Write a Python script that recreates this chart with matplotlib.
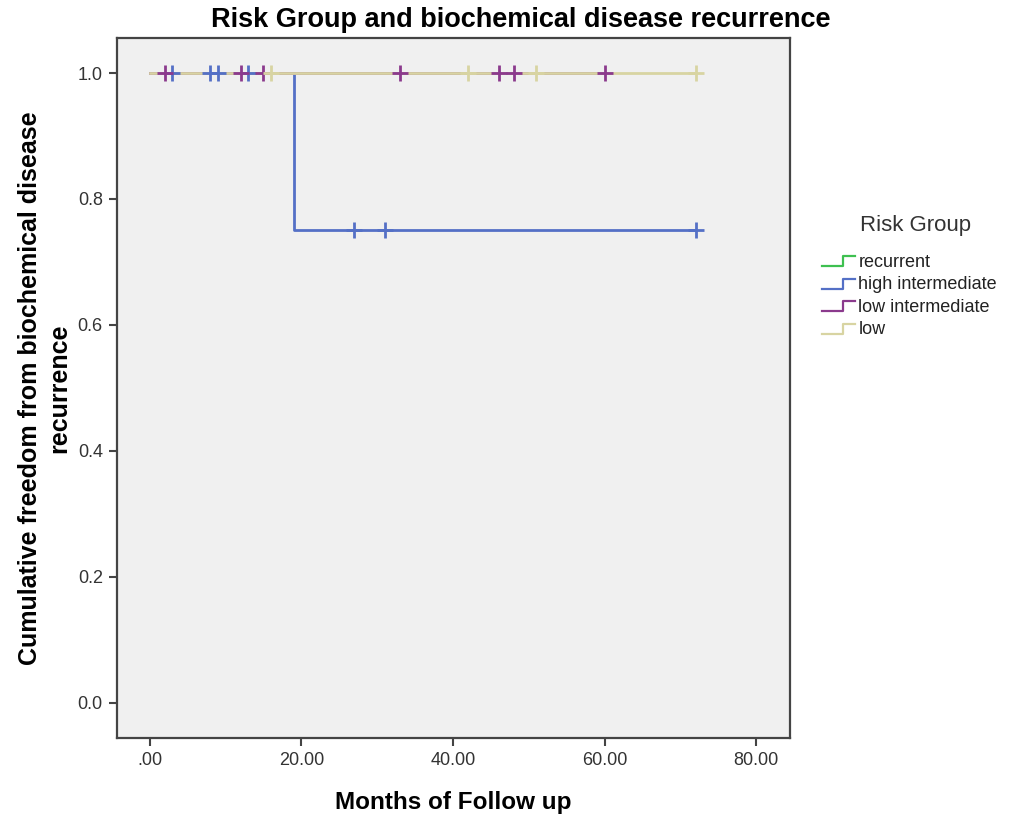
import matplotlib
matplotlib.use('Agg')
import matplotlib.pyplot as plt
from matplotlib.lines import Line2D
from matplotlib.legend_handler import HandlerBase
import numpy as np

plt.rcParams['font.family'] = ['Liberation Sans', 'DejaVu Sans']

# Follow-up data per risk group: time (months) and event flag (1 = recurrence, 0 = censored)
groups = ['recurrent', 'high intermediate', 'low intermediate', 'low']
colors = ['#3EC050', '#5470C6', '#8B3A8D', '#D8D4A2']

recurrent_time = []
recurrent_event = []
high_time = [3, 8, 9, 13, 19, 27, 31, 72]
high_event = [0, 0, 0, 0, 1, 0, 0, 0]
lowint_time = [2, 12, 15, 33, 46, 48, 60]
lowint_event = [0, 0, 0, 0, 0, 0, 0]
low_time = [16, 42, 51, 72]
low_event = [0, 0, 0, 0]

times = [recurrent_time, high_time, lowint_time, low_time]
events = [recurrent_event, high_event, lowint_event, low_event]

x_ticks = [0, 20, 40, 60, 80]
x_ticklabels = ['.00', '20.00', '40.00', '60.00', '80.00']
y_ticks = [0.0, 0.2, 0.4, 0.6, 0.8, 1.0]
y_ticklabels = ['0.0', '0.2', '0.4', '0.6', '0.8', '1.0']


def kaplan_meier(t, e):
    t = np.asarray(t, float)
    e = np.asarray(e, int)
    xs, ys = [0.0], [1.0]
    s = 1.0
    cens_x, cens_y = [], []
    for ut in np.unique(t):
        at_risk = np.sum(t >= ut)
        d = np.sum((t == ut) & (e == 1))
        if d > 0:
            s = s * (1 - d / at_risk)
        xs.append(ut)
        ys.append(s)
        if np.any((t == ut) & (e == 0)):
            cens_x.append(ut)
            cens_y.append(s)
    return xs, ys, cens_x, cens_y


class StepHandler(HandlerBase):
    # legend key drawn as a little survival step
    def create_artists(self, legend, orig_handle, xdescent, ydescent,
                       width, height, fontsize, trans):
        x0 = -xdescent
        y0 = -ydescent + height * 0.05
        y1 = -ydescent + height * 0.85
        xs = [x0, x0 + width * 0.64, x0 + width * 0.64, x0 + width]
        ys = [y0, y0, y1, y1]
        ln = Line2D(xs, ys, color=orig_handle.get_color(), lw=1.6)
        ln.set_transform(trans)
        return [ln]


fig = plt.figure(figsize=(10.15, 8.21), dpi=100)
ax = fig.add_axes([0.115, 0.101, 0.663, 0.853])
ax.set_facecolor('#F0F0F0')

curves = [kaplan_meier(t, e) if len(t) else None for t, e in zip(times, events)]

# lines first, censor marks on top
for c, col in zip(curves, colors):
    if c is None:
        continue
    xs, ys, _, _ = c
    ax.step(xs, ys, where='post', color=col, lw=2, zorder=2)
for c, col in zip(curves, colors):
    if c is None:
        continue
    _, _, cx, cy = c
    ax.plot(cx, cy, ls='none', marker='+', ms=12, mew=2, color=col, zorder=3)

ax.set_xlim(-4.35, 84.4)
ax.set_ylim(-0.056, 1.056)
ax.set_xticks(x_ticks)
ax.set_xticklabels(x_ticklabels)
ax.set_yticks(y_ticks)
ax.set_yticklabels(y_ticklabels)
ax.tick_params(axis='both', length=6, width=1.5, color='#444444',
               labelsize=13, labelcolor='#333333', pad=4)
for sp in ax.spines.values():
    sp.set_color('#444444')
    sp.set_linewidth(1.6)

fig.text(521 / 1015, 1 - 20 / 821, 'Risk Group and biochemical disease recurrence',
         fontsize=19.5, fontweight='bold', ha='center', va='center')
ax.set_xlabel('Months of Follow up', fontsize=17.5, fontweight='bold', labelpad=16)
ax.set_ylabel('Cumulative freedom from biochemical disease\nrecurrence',
              fontsize=18, fontweight='bold', labelpad=5, linespacing=1.25)

fig.text(916 / 1015, 1 - 226 / 821, 'Risk Group', fontsize=16,
         color='#333333', ha='center', va='center')

handles = [Line2D([], [], color=col) for col in colors]
leg = fig.legend(handles, groups, loc='upper left',
                 bbox_to_anchor=(822 / 1015, 1 - 254 / 821), frameon=False,
                 fontsize=13, borderpad=0, borderaxespad=0,
                 handler_map={Line2D: StepHandler()},
                 handlelength=1.85, handletextpad=0.17, labelspacing=0.3)
for txt in leg.get_texts():
    txt.set_color('#222222')

fig.savefig('out.png', dpi=100)
